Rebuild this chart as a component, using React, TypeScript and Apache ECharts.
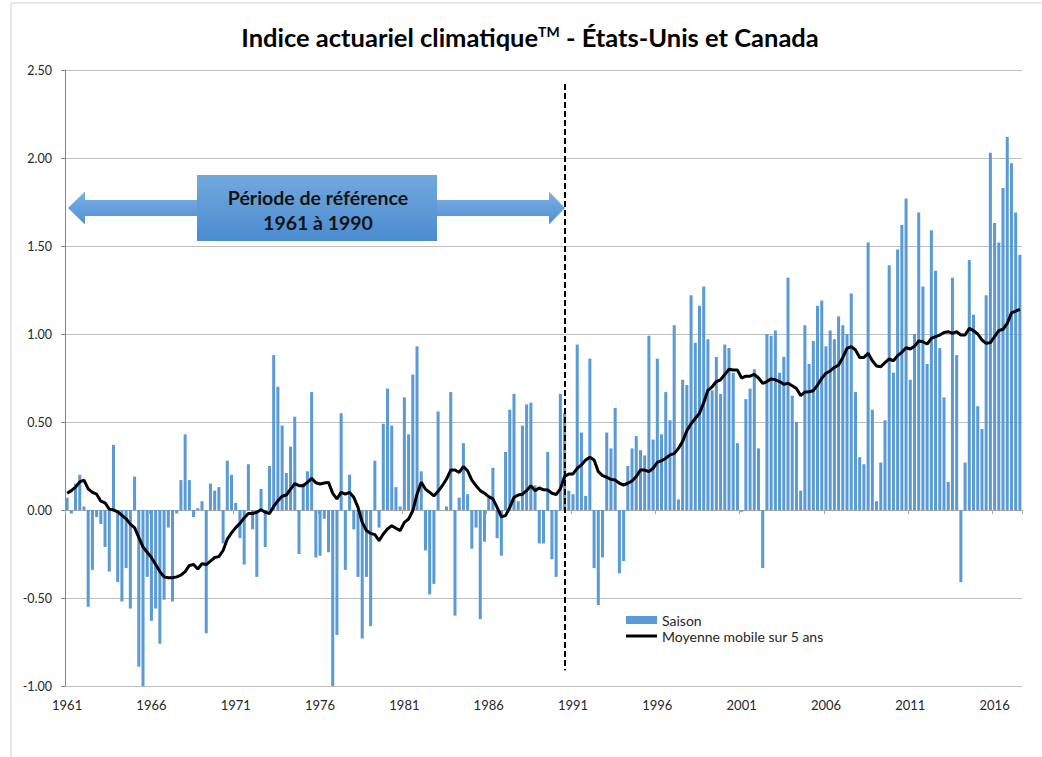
import React, { useEffect, useRef } from "react";
import * as echarts from "echarts";

// Seasonal index values, winter 1961 onward (4 seasons per year)
const seasonValues: number[] = [
  0.07, -0.02, 0.15, 0.20, 0.02, -0.55, -0.34, -0.04, -0.08, -0.21,
  -0.35, 0.37, -0.41, -0.52, -0.33, -0.56, 0.19, -0.89, -1.00, -0.38,
  -0.63, -0.56, -0.76, -0.51, -0.10, -0.52, -0.02, 0.17, 0.43, 0.17,
  -0.04, 0.01, 0.05, -0.70, 0.15, 0.11, 0.13, -0.19, 0.28, 0.20,
  0.04, -0.16, -0.31, 0.26, -0.11, -0.38, 0.12, -0.21, 0.25, 0.88,
  0.70, 0.48, 0.21, 0.36, 0.53, -0.25, 0.15, 0.22, 0.67, -0.27,
  -0.26, -0.05, -0.24, -1.00, -0.71, 0.55, -0.34, 0.20, -0.11, -0.38,
  -0.73, -0.38, -0.66, 0.28, -0.10, 0.49, 0.69, 0.48, 0.13, 0.02,
  0.64, 0.43, 0.77, 0.93, 0.22, -0.23, -0.48, -0.42, 0.56, 0.00,
  0.02, 0.67, -0.60, 0.07, 0.38, 0.09, -0.22, -0.10, -0.62, -0.18,
  0.07, 0.24, -0.16, -0.26, 0.33, 0.57, 0.66, 0.05, 0.48, 0.60,
  0.61, 0.14, -0.19, -0.19, 0.33, -0.28, -0.38, 0.66, 0.55, 0.11,
  0.09, 0.94, 0.44, 0.08, 0.86, -0.33, -0.54, -0.27, 0.44, 0.35,
  0.58, -0.36, -0.29, 0.25, 0.35, 0.42, 0.34, 0.31, 0.99, 0.40,
  0.86, 0.43, 0.67, 0.51, 1.05, 0.06, 0.74, 0.71, 1.22, 0.95,
  1.16, 1.27, 0.97, 0.68, 0.87, 0.66, 0.94, 0.92, 0.78, 0.38,
  -0.01, 0.63, 0.69, 0.80, 0.35, -0.33, 1.00, 0.99, 1.02, 0.78,
  0.87, 1.32, 0.65, 0.50, 0.11, 1.05, 0.83, 0.96, 1.16, 1.19,
  0.93, 1.02, 0.97, 1.10, 1.05, 1.00, 1.23, 0.67, 0.30, 0.26,
  1.52, 0.57, 0.05, 0.27, 0.51, 1.39, 0.78, 1.48, 1.62, 1.77,
  0.74, 1.00, 1.69, 1.27, 0.83, 1.59, 1.36, 0.92, 0.64, 0.16,
  1.32, 0.88, -0.41, 0.27, 1.42, 1.11, 0.59, 0.46, 1.22, 2.03,
  1.63, 1.52, 1.83, 2.12, 1.97, 1.69, 1.45,
];

// 5-year moving average
const movingAverage: number[] = [
  0.095, 0.11, 0.13, 0.16, 0.17, 0.12, 0.10, 0.09, 0.05, 0.04,
  0.005, 0.0, -0.01, -0.03, -0.05, -0.08, -0.10, -0.155, -0.21, -0.24,
  -0.27, -0.31, -0.35, -0.38, -0.385, -0.385, -0.38, -0.37, -0.35, -0.315,
  -0.31, -0.335, -0.305, -0.31, -0.29, -0.27, -0.265, -0.23, -0.165, -0.13,
  -0.10, -0.076, -0.045, -0.02, -0.02, -0.013, 0.002, -0.013, -0.02, 0.02,
  0.053, 0.078, 0.085, 0.119, 0.15, 0.138, 0.138, 0.157, 0.18, 0.155,
  0.148, 0.153, 0.157, 0.095, 0.063, 0.10, 0.09, 0.10, 0.072, 0.015,
  -0.07, -0.117, -0.133, -0.14, -0.174, -0.136, -0.108, -0.089, -0.104, -0.117,
  -0.07, -0.051, -0.004, 0.09, 0.157, 0.119, 0.10, 0.08, 0.106, 0.138,
  0.176, 0.227, 0.227, 0.214, 0.246, 0.223, 0.17, 0.138, 0.11, 0.095,
  0.076, 0.063, 0.015, -0.038, -0.032, 0.015, 0.072, 0.085, 0.09, 0.11,
  0.138, 0.11, 0.125, 0.115, 0.114, 0.095, 0.088, 0.12, 0.19, 0.205,
  0.205, 0.237, 0.256, 0.284, 0.30, 0.284, 0.218, 0.195, 0.186, 0.174,
  0.17, 0.152, 0.142, 0.152, 0.165, 0.19, 0.227, 0.227, 0.218, 0.237,
  0.27, 0.28, 0.294, 0.313, 0.32, 0.35, 0.39, 0.45, 0.49, 0.52,
  0.55, 0.61, 0.68, 0.70, 0.73, 0.74, 0.77, 0.80, 0.795, 0.795,
  0.75, 0.76, 0.76, 0.77, 0.75, 0.72, 0.73, 0.745, 0.74, 0.73,
  0.714, 0.72, 0.706, 0.69, 0.65, 0.67, 0.672, 0.678, 0.71, 0.748,
  0.777, 0.79, 0.81, 0.824, 0.867, 0.918, 0.928, 0.909, 0.867, 0.867,
  0.89, 0.848, 0.818, 0.814, 0.837, 0.858, 0.848, 0.877, 0.896, 0.922,
  0.915, 0.93, 0.96, 0.956, 0.943, 0.975, 0.985, 0.994, 1.009, 1.013,
  1.004, 1.013, 0.994, 0.994, 1.032, 1.019, 1.0, 0.966, 0.947, 0.951,
  0.985, 1.019, 1.027, 1.06, 1.12, 1.13, 1.14,
];

const firstYear = 1961;
const seasonsPerYear = 4;
const categories: string[] = seasonValues.map(
  (_, i) => `${firstYear + Math.floor(i / seasonsPerYear)}-S${(i % seasonsPerYear) + 1}`
);

const yMin = -1;
const yMax = 2.5;
const yStep = 0.5;
const labelEvery = 20; // one label every 5 years

const referenceEndIndex = 118; // dashed line after 1961-1990
const dashedTop = 2.42;
const dashedBottom = -0.91;

const FONT = "Lato, 'Open Sans', 'DejaVu Sans', sans-serif";
const TEXT = "#262626";
const BLUE = "#5b9bd5";

export default function App() {
  const ref = useRef<HTMLDivElement>(null);

  useEffect(() => {
    if (!ref.current) return;
    const chart = echarts.init(ref.current, null, { renderer: "svg" });
    const option: any = {
      animation: false,
      backgroundColor: "#ffffff",
      textStyle: { fontFamily: FONT },
      grid: { left: 65, right: 20, top: 70, bottom: 71, containLabel: false },
      legend: [
        {
          left: 626,
          top: 613,
          orient: "vertical",
          padding: 0,
          itemWidth: 31,
          itemHeight: 8,
          itemTextGap: 3,
          textStyle: { fontSize: 14, color: TEXT, fontFamily: FONT },
          data: [{ name: "Saison", icon: "rect" }],
        },
        {
          left: 626,
          top: 629,
          orient: "vertical",
          padding: 0,
          itemWidth: 31,
          itemHeight: 3,
          itemTextGap: 3,
          textStyle: { fontSize: 14, color: TEXT, fontFamily: FONT },
          data: [{ name: "Moyenne mobile sur 5 ans", icon: "rect" }],
        },
      ],
      xAxis: [
        {
          type: "category",
          data: categories,
          position: "bottom",
          axisLine: { show: false, onZero: false },
          axisTick: { show: false },
          splitLine: { show: false },
          axisLabel: {
            interval: labelEvery - 1,
            formatter: (v: string) => v.slice(0, 4),
            color: TEXT,
            fontSize: 13,
            margin: 12,
            fontFamily: FONT,
          },
        },
        {
          type: "category",
          data: categories,
          position: "bottom",
          axisLine: { show: true, onZero: true, lineStyle: { color: "#a6a6a6", width: 1 } },
          axisTick: { show: true, interval: labelEvery - 1, length: 4, lineStyle: { color: "#a6a6a6" } },
          axisLabel: { show: false },
          splitLine: { show: false },
        },
      ],
      yAxis: {
        type: "value",
        min: yMin,
        max: yMax,
        interval: yStep,
        axisLine: { show: true, lineStyle: { color: "#868686" } },
        axisTick: { show: true, length: 4, lineStyle: { color: "#868686" } },
        splitLine: { show: true, lineStyle: { color: "#bfbfbf", width: 1 } },
        axisLabel: {
          formatter: (v: number) => v.toFixed(2),
          color: TEXT,
          fontSize: 12.5,
          margin: 13,
          fontFamily: FONT,
        },
      },
      series: [
        {
          name: "Saison",
          type: "bar",
          xAxisIndex: 0,
          data: seasonValues,
          barCategoryGap: "28%",
          itemStyle: { color: BLUE },
          z: 2,
        },
        {
          name: "Moyenne mobile sur 5 ans",
          type: "line",
          xAxisIndex: 0,
          data: movingAverage,
          symbol: "none",
          lineStyle: { color: "#000000", width: 3 },
          itemStyle: { color: "#000000" },
          z: 4,
          markLine: {
            silent: true,
            symbol: ["none", "none"],
            label: { show: false },
            lineStyle: { color: "#000000", type: [6, 3], width: 2 },
            data: [
              [
                { coord: [referenceEndIndex, dashedTop] },
                { coord: [referenceEndIndex, dashedBottom] },
              ],
            ],
          },
        },
      ],
      graphic: [
        {
          type: "rect",
          silent: true,
          shape: { x: 11, y: 3, width: 1100, height: 800 },
          style: { fill: "none", stroke: "#d0d0d0", lineWidth: 1 },
          z: -10,
        },
        {
          type: "text",
          x: 530,
          y: 37,
          style: {
            text: "{t|Indice actuariel climatique}{sup|TM}{t| - États-Unis et Canada}",
            align: "center",
            verticalAlign: "middle",
            fill: "#000",
            rich: {
              t: { fontSize: 25.5, fontWeight: "bold", fontFamily: FONT, fill: "#000" },
              sup: { fontSize: 14, fontWeight: "bold", fontFamily: FONT, verticalAlign: "top", fill: "#000" },
            },
          },
        },
        {
          type: "polygon",
          silent: true,
          shape: {
            points: [
              [68, 208], [85, 191.5], [85, 200], [549, 200], [549, 191.5],
              [565, 208], [549, 224.5], [549, 216], [85, 216], [85, 224.5],
            ],
          },
          style: {
            fill: new echarts.graphic.LinearGradient(0, 0, 0, 1, [
              { offset: 0, color: "#7db1e3" },
              { offset: 1, color: "#4f8fd3" },
            ]),
          },
          z: 10,
        },
        {
          type: "rect",
          silent: true,
          shape: { x: 197, y: 175, width: 240, height: 66 },
          style: {
            fill: new echarts.graphic.LinearGradient(0, 0, 0, 1, [
              { offset: 0, color: "#72a9de" },
              { offset: 1, color: "#4b8bd0" },
            ]),
          },
          z: 11,
        },
        {
          type: "text",
          silent: true,
          x: 318,
          y: 197,
          style: {
            text: "Période de référence",
            align: "center",
            verticalAlign: "middle",
            fontSize: 19.5,
            fontWeight: "bold",
            fontFamily: FONT,
            fill: "#141414",
          },
          z: 12,
        },
        {
          type: "text",
          silent: true,
          x: 318,
          y: 222,
          style: {
            text: "1961 à 1990",
            align: "center",
            verticalAlign: "middle",
            fontSize: 19.5,
            fontWeight: "bold",
            fontFamily: FONT,
            fill: "#141414",
          },
          z: 12,
        },
      ],
    };
    chart.setOption(option);
    return () => chart.dispose();
  }, []);

  return (
    <div
      ref={ref}
      style={{ position: "fixed", left: 0, top: 0, width: 1042, height: 757, background: "#fff" }}
    />
  );
}
